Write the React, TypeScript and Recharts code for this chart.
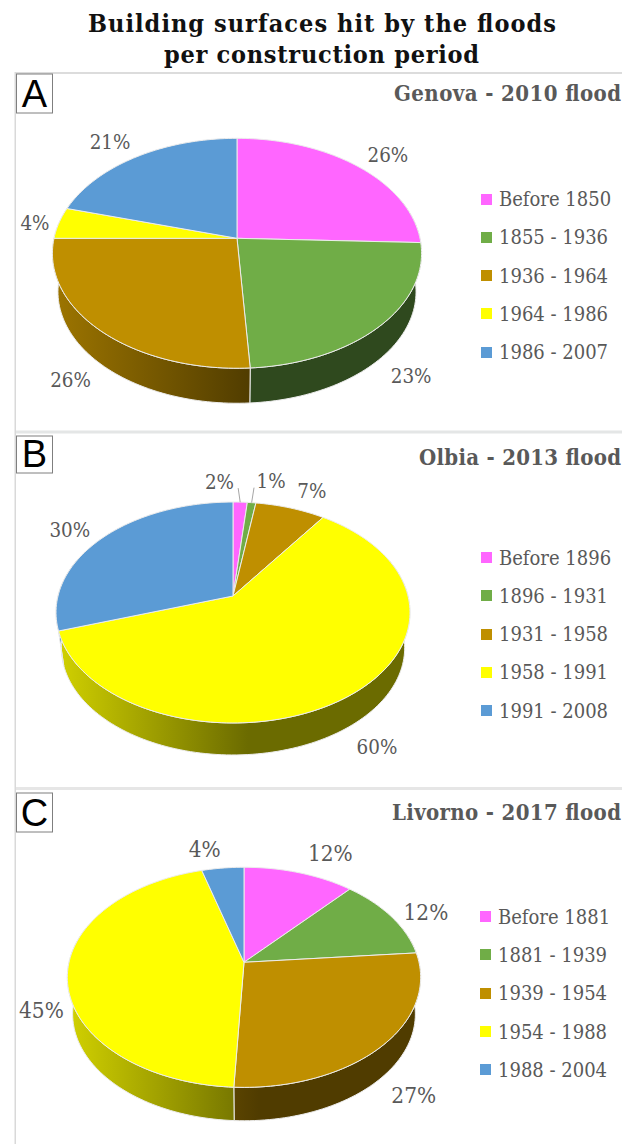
import React from "react";
import { PieChart, Pie, Legend } from "recharts";

const SLICE_COLORS = ["#ff66ff", "#70ad47", "#bf8f00", "#ffff00", "#5b9bd5"];

const PERIODS_A = ["Before 1850", "1855 - 1936", "1936 - 1964", "1964 - 1986", "1986 - 2007"];
const VALUES_A = [25.6, 23.4, 26, 4.4, 20.6];
const PERIODS_B = ["Before 1896", "1896 - 1931", "1931 - 1958", "1958 - 1991", "1991 - 2008"];
const VALUES_B = [1.5, 0.9, 7.4, 60.2, 30];
const PERIODS_C = ["Before 1881", "1881 - 1939", "1939 - 1954", "1954 - 1988", "1988 - 2004"];
const VALUES_C = [11.6, 12, 27.2, 44.8, 4.4];

const SERIF = "'DejaVu Serif Condensed', 'DejaVu Serif', serif";
const GREY = "#595959";

type Panel = {
  id: string;
  title: string;
  titleWidth: number;
  titleBaseline: number;
  letterTop: number;
  letterBottom: number;
  chartTop: number;
  chartHeight: number;
  periods: string[];
  values: number[];
  cx: number;
  cy: number;
  radius: number;
  tilt: number;
  squash: number;
  down: number;
  depth: number;
  labelSize: number;
  nudges: number[][];
  leaders: (number[] | null)[];
  legendLeft: number;
  legendTop: number;
};

const PANELS: Panel[] = [
  {
    id: "A", title: "Genova - 2010 flood", titleWidth: 227, titleBaseline: 100.5,
    letterTop: 74, letterBottom: 113, chartTop: 73, chartHeight: 358,
    periods: PERIODS_A, values: VALUES_A,
    cx: 237, cy: 165.3, radius: 183, tilt: 0.1304, squash: 113, down: 130, depth: 35, labelSize: 20.4,
    nudges: [[30, -11], [30, 51], [-28, 51], [-24, 0], [-27, -15]],
    leaders: [null, null, null, null, null],
    legendLeft: 481, legendTop: 115,
  },
  {
    id: "B", title: "Olbia - 2013 flood", titleWidth: 202, titleBaseline: 464.5,
    letterTop: 436, letterBottom: 473, chartTop: 433, chartHeight: 355,
    periods: PERIODS_B, values: VALUES_B,
    cx: 233, cy: 163, radius: 175, tilt: 0.1493, squash: 108, down: 127, depth: 32, labelSize: 20.4,
    nudges: [[-20.7, -20.3], [19.4, -22], [21.4, -17.3], [26, 52.6], [-33, -7.6]],
    leaders: [[-2, -14], [2.4, -15], null, null, null],
    legendLeft: 481, legendTop: 113.5,
  },
  {
    id: "C", title: "Livorno - 2017 flood", titleWidth: 229, titleBaseline: 820,
    letterTop: 793, letterBottom: 832, chartTop: 790, chartHeight: 354,
    periods: PERIODS_C, values: VALUES_C,
    cx: 244, cy: 172.3, radius: 175, tilt: 0.1364, squash: 108, down: 125, depth: 33.4, labelSize: 22.4,
    nudges: [[31, -20], [34.5, -4.7], [30.5, 50], [-26, 35], [-18, -19]],
    leaders: [null, null, null, null, null],
    legendLeft: 480, legendTop: 115.7,
  },
];

const WALL_SCALE = 0.97;

// Projects a true pie angle (clockwise from 12 o'clock) onto the tilted disc.
function project(p: Panel, theta: number) {
  const t = (theta * Math.PI) / 180;
  const w = 1 + p.tilt * Math.cos(t);
  return { x: (p.radius * Math.sin(t)) / w, y: (-p.squash * Math.cos(t)) / w };
}

function shade(hex: string, f: number) {
  const n = parseInt(hex.slice(1), 16);
  const c = (v: number) => Math.round(v * f);
  return `rgb(${c((n >> 16) & 255)},${c((n >> 8) & 255)},${c(n & 255)})`;
}

function samples(a: number, b: number) {
  const out: number[] = [];
  const steps = Math.max(2, Math.ceil((b - a) / 1.5));
  for (let i = 0; i <= steps; i++) out.push(a + ((b - a) * i) / steps);
  return out;
}

const topShape = (p: Panel) => (props: any) => {
  const a = 90 - props.startAngle;
  const b = 90 - props.endAngle;
  const pts = samples(a, b).map((th) => project(p, th));
  const d =
    `M${props.cx},${props.cy} ` +
    pts.map((q) => `L${(props.cx + q.x).toFixed(2)},${(props.cy + q.y).toFixed(2)}`).join(" ") +
    " Z";
  return <path d={d} fill={props.fill} stroke="#ececec" strokeWidth={1} strokeLinejoin="round" />;
};

const wallShape = (p: Panel) => (props: any) => {
  const a = Math.max(90 - props.startAngle, 70);
  const b = Math.min(90 - props.endAngle, 290);
  if (b <= a) return <g />;
  const lift = p.down + p.depth - p.down * WALL_SCALE;
  const ths = samples(a, b);
  const upper = ths.map((th) => project(p, th));
  const lower = ths.map((th) => project(p, th)).reverse();
  const seg = [
    ...upper.map((q) => [props.cx + q.x, props.cy + q.y]),
    ...lower.map((q) => [props.cx + q.x * WALL_SCALE, props.cy + q.y * WALL_SCALE + lift]),
  ];
  const d = "M" + seg.map((s) => `${s[0].toFixed(2)},${s[1].toFixed(2)}`).join(" L") + " Z";
  const gid = `wall-${p.id}-${String(props.name).replace(/\W/g, "")}`;
  return (
    <g>
      <defs>
        <linearGradient id={gid} gradientUnits="userSpaceOnUse" x1={props.cx - p.radius} y1={0} x2={props.cx + 15} y2={0}>
          <stop offset="0" stopColor={shade(props.fill, 0.82)} />
          <stop offset="1" stopColor={shade(props.fill, 0.42)} />
        </linearGradient>
      </defs>
      <path d={d} fill={`url(#${gid})`} stroke="#ececec" strokeWidth={1} strokeLinejoin="round" />
    </g>
  );
};

const sliceLabel = (p: Panel) => (props: any) => {
  const q = project(p, 90 - props.midAngle);
  const ax = props.cx + q.x;
  const ay = props.cy + q.y;
  const [dx, dy] = p.nudges[props.index];
  const leader = p.leaders[props.index];
  return (
    <g>
      {leader && (
        <line x1={ax} y1={ay} x2={ax + leader[0]} y2={ay + leader[1]} stroke="#a6a6a6" strokeWidth={1} />
      )}
      <text
        x={ax + dx}
        y={ay + dy}
        textAnchor="middle"
        dominantBaseline="central"
        fontFamily={SERIF}
        fontSize={p.labelSize}
        fill={GREY}
      >
        {Math.round(props.value)}%
      </text>
    </g>
  );
};

const legendBody = (p: Panel) => (props: any) => {
  const all: any[] = props.payload || [];
  const rows = p.periods.map((name) => all.find((r) => r.value === name)).filter(Boolean);
  return (
    <div style={{ position: "relative", width: 140, height: 200, fontFamily: SERIF, fontSize: 20, color: GREY }}>
      {rows.map((r, i) => (
        <div key={r.value} style={{ position: "absolute", left: 0, top: i * 38.3, height: 22, lineHeight: "22px", whiteSpace: "nowrap" }}>
          <span style={{ position: "absolute", left: 0, top: 5.5, width: 11, height: 11, background: r.color }} />
          <span style={{ position: "absolute", left: 18 }}>{r.value}</span>
        </div>
      ))}
    </div>
  );
};

function PanelChart({ p }: { p: Panel }) {
  const rows = p.periods.map((name, i) => ({ name, value: p.values[i], fill: SLICE_COLORS[i] }));
  return (
    <div style={{ position: "absolute", left: 0, top: p.chartTop }}>
      <PieChart width={622} height={p.chartHeight} margin={{ top: 0, right: 0, bottom: 0, left: 0 }}>
        <Pie
          data={rows} dataKey="value" nameKey="name" cx={p.cx} cy={p.cy} outerRadius={p.radius}
          startAngle={90} endAngle={-270} isAnimationActive={false} legendType="none"
          shape={wallShape(p)} label={false} labelLine={false}
        />
        <Pie
          data={rows} dataKey="value" nameKey="name" cx={p.cx} cy={p.cy} outerRadius={p.radius}
          startAngle={90} endAngle={-270} isAnimationActive={false} legendType="square"
          shape={topShape(p)} label={sliceLabel(p)} labelLine={false}
        />
        <Legend
          layout="vertical" align="right" verticalAlign="top" itemSorter={null as any}
          wrapperStyle={{ position: "absolute", left: p.legendLeft, top: p.legendTop, width: 140 }}
          content={legendBody(p)}
        />
      </PieChart>
    </div>
  );
}

export default function App() {
  return (
    <div style={{ position: "absolute", left: 0, top: 0, width: 622, height: 1144, background: "#fff", overflow: "hidden" }}>
      {PANELS.map((p) => (
        <PanelChart key={p.id} p={p} />
      ))}
      <svg width={622} height={1144} style={{ position: "absolute", left: 0, top: 0, pointerEvents: "none" }}>
        <text x={322} y={31.5} textAnchor="middle" fontFamily={SERIF} fontWeight="bold" fontSize={25} fill="#111" textLength={468} lengthAdjust="spacing">
          Building surfaces hit by the floods
        </text>
        <text x={321.5} y={63} textAnchor="middle" fontFamily={SERIF} fontWeight="bold" fontSize={25} fill="#111" textLength={315} lengthAdjust="spacing">
          per construction period
        </text>
        <rect x={15} y={72} width={607} height={2} fill="#dcdcdc" />
        <rect x={15} y={430.5} width={607} height={3} fill="#e4e6e6" />
        <rect x={15} y={787} width={607} height={3} fill="#e6e6e6" />
        <rect x={14.5} y={72} width={1.5} height={1072} fill="#d9d9d9" />
        {PANELS.map((p) => (
          <g key={p.id}>
            <rect x={16.5} y={p.letterTop} width={36} height={p.letterBottom - p.letterTop} fill="#fff" stroke="#7f7f7f" strokeWidth={1} />
            <text x={34.5} y={p.letterBottom - 6} textAnchor="middle" fontFamily="'Liberation Sans', sans-serif" fontSize={38} fill="#000">
              {p.id}
            </text>
            <text x={621} y={p.titleBaseline} textAnchor="end" fontFamily={SERIF} fontWeight="bold" fontSize={22} fill={GREY} textLength={p.titleWidth} lengthAdjust="spacing">
              {p.title}
            </text>
          </g>
        ))}
      </svg>
    </div>
  );
}
